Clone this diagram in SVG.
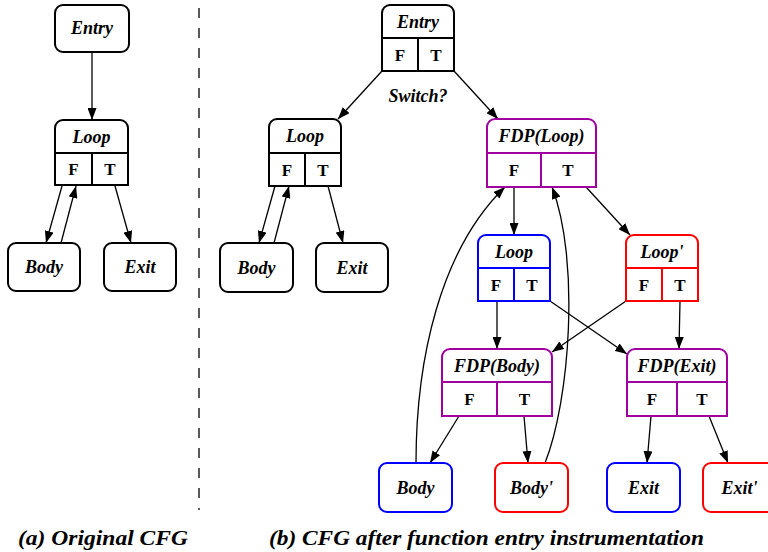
<svg xmlns="http://www.w3.org/2000/svg" width="768" height="552" viewBox="0 0 768 552">
<style>
  .n { fill: #fff; stroke: #000; stroke-width: 2; }
  .blue { stroke: #0000ff; }
  .red { stroke: #ff0000; }
  .pur { stroke: #a000a0; }
  .sep { fill: none; stroke-width: 2; }
  .lbl { font-family: "Liberation Serif", "Times New Roman", serif; font-size: 18px; font-weight: bold; font-style: italic; text-anchor: middle; fill: #000; }
  .ft { font-family: "Liberation Serif", "Times New Roman", serif; font-size: 17px; font-weight: bold; text-anchor: middle; fill: #000; }
  .cap { font-family: "Liberation Serif", "Times New Roman", serif; font-size: 22px; font-weight: bold; font-style: italic; fill: #000; }
  .e { fill: none; stroke: #000; stroke-width: 1.3; marker-end: url(#arr); }
</style>
<defs>
  <marker id="arr" viewBox="0 0 12 9" refX="12" refY="4.5" markerWidth="12" markerHeight="9" markerUnits="userSpaceOnUse" orient="auto">
    <path d="M0,0 L12,4.5 L0,9 Z" fill="#000"/>
  </marker>
</defs>

<!-- divider -->
<line x1="199" y1="8" x2="199" y2="510" stroke="#000" stroke-width="1.3" stroke-dasharray="10,10"/>

<g id="connectors">
  <path class="e" d="M92,52 L92,120"/>
  <path class="e" d="M62,186 L46,243"/>
  <path class="e" d="M61,243 L76,186"/>
  <path class="e" d="M115,186 L131,243"/>

  <path class="e" d="M382,71 L338,119"/>
  <path class="e" d="M454,71 L498,119"/>
  <path class="e" d="M275,186 L259,243"/>
  <path class="e" d="M274,243 L289,186"/>
  <path class="e" d="M328,186 L343,243"/>

  <path class="e" d="M514,187 L514,235"/>
  <path class="e" d="M586,187 L630,235"/>
  <path class="e" d="M416,463 C416,360 440,250 505,187"/>
  <path class="e" d="M545,463 C570,400 580,260 552,187"/>

  <path class="e" d="M497,301 L497,349"/>
  <path class="e" d="M550,301 L627,354"/>
  <path class="e" d="M626,301 L552,352"/>
  <path class="e" d="M680,301 L679,349"/>

  <path class="e" d="M459,416 L430,463"/>
  <path class="e" d="M524,416 L528,463"/>
  <path class="e" d="M651,416 L647,463"/>
  <path class="e" d="M709,416 L728,463"/>
</g>

<!-- (a) original CFG -->
<g id="a_entry">
  <rect class="n" x="55" y="5" width="74" height="47" rx="8"/>
  <text class="lbl" x="92" y="34">Entry</text>
</g>
<g id="a_loop">
  <path class="n" d="M55,185 V128 A8,8 0 0 1 63,120 H120 A8,8 0 0 1 128,128 V185 Z"/>
  <path class="sep" stroke="#000" d="M55,153 H128 M92,153 V185"/>
  <text class="lbl" x="91.5" y="142.5">Loop</text>
  <text class="ft" x="73.5" y="175">F</text>
  <text class="ft" x="110" y="175">T</text>
</g>
<g id="a_body">
  <rect class="n" x="8" y="243" width="72" height="48" rx="8"/>
  <text class="lbl" x="44" y="273">Body</text>
</g>
<g id="a_exit">
  <rect class="n" x="104" y="243" width="72" height="48" rx="8"/>
  <text class="lbl" x="140" y="273">Exit</text>
</g>

<!-- (b) instrumented CFG -->
<g id="b_entry">
  <path class="n" d="M382,71 V13 A8,8 0 0 1 390,5 H446 A8,8 0 0 1 454,13 V71 Z"/>
  <path class="sep" stroke="#000" d="M382,38 H454 M418,38 V71"/>
  <text class="lbl" x="418" y="27.5">Entry</text>
  <text class="ft" x="400" y="60.5">F</text>
  <text class="ft" x="436" y="60.5">T</text>
</g>
<text class="lbl" x="418" y="102">Switch?</text>

<g id="b_loop">
  <path class="n" d="M269,186 V127 A8,8 0 0 1 277,119 H333 A8,8 0 0 1 341,127 V186 Z"/>
  <path class="sep" stroke="#000" d="M269,153 H341 M305,153 V186"/>
  <text class="lbl" x="305" y="142">Loop</text>
  <text class="ft" x="287" y="175.5">F</text>
  <text class="ft" x="323" y="175.5">T</text>
</g>
<g id="b_body">
  <rect class="n" x="220" y="243" width="73" height="49" rx="8"/>
  <text class="lbl" x="256.5" y="273.5">Body</text>
</g>
<g id="b_exit">
  <rect class="n" x="316" y="243" width="72" height="49" rx="8"/>
  <text class="lbl" x="352" y="273.5">Exit</text>
</g>

<g id="fdp_loop">
  <path class="n pur" d="M487,187 V127 A8,8 0 0 1 495,119 H588 A8,8 0 0 1 596,127 V187 Z"/>
  <path class="sep pur" d="M487,153 H596 M541,153 V187"/>
  <text class="lbl" x="541.5" y="142">FDP(Loop)</text>
  <text class="ft" x="514" y="176">F</text>
  <text class="ft" x="568" y="176">T</text>
</g>

<g id="loop_blue">
  <path class="n blue" d="M478,301 V243 A8,8 0 0 1 486,235 H542 A8,8 0 0 1 550,243 V301 Z"/>
  <path class="sep blue" d="M478,268 H550 M514,268 V301"/>
  <text class="lbl" x="514" y="257.5">Loop</text>
  <text class="ft" x="496" y="290.5">F</text>
  <text class="ft" x="532" y="290.5">T</text>
</g>

<g id="loop_red">
  <path class="n red" d="M626,301 V243 A8,8 0 0 1 634,235 H690 A8,8 0 0 1 698,243 V301 Z"/>
  <path class="sep red" d="M626,268 H698 M662,268 V301"/>
  <text class="lbl" x="662" y="257.5">Loop'</text>
  <text class="ft" x="644" y="290.5">F</text>
  <text class="ft" x="680" y="290.5">T</text>
</g>

<g id="fdp_body">
  <path class="n pur" d="M442,416 V357 A8,8 0 0 1 450,349 H544 A8,8 0 0 1 552,357 V416 Z"/>
  <path class="sep pur" d="M442,382 H552 M497,382 V416"/>
  <text class="lbl" x="497" y="371.5">FDP(Body)</text>
  <text class="ft" x="469.5" y="405">F</text>
  <text class="ft" x="524.5" y="405">T</text>
</g>

<g id="fdp_exit">
  <path class="n pur" d="M627,416 V357 A8,8 0 0 1 635,349 H719 A8,8 0 0 1 727,357 V416 Z"/>
  <path class="sep pur" d="M627,382 H727 M677,382 V416"/>
  <text class="lbl" x="677" y="371.5">FDP(Exit)</text>
  <text class="ft" x="652" y="405">F</text>
  <text class="ft" x="702" y="405">T</text>
</g>

<g id="body_blue">
  <rect class="n blue" x="379" y="463" width="73" height="49" rx="8"/>
  <text class="lbl" x="415.5" y="493.5">Body</text>
</g>
<g id="body_red">
  <rect class="n red" x="495" y="463" width="73" height="49" rx="8"/>
  <text class="lbl" x="531.5" y="493.5">Body'</text>
</g>
<g id="exit_blue">
  <rect class="n blue" x="607" y="463" width="73" height="49" rx="8"/>
  <text class="lbl" x="643.5" y="493.5">Exit</text>
</g>
<g id="exit_red">
  <rect class="n red" x="703" y="463" width="73" height="49" rx="8"/>
  <text class="lbl" x="739.5" y="493.5">Exit'</text>
</g>

<text class="cap" x="18" y="545" textLength="170" lengthAdjust="spacingAndGlyphs">(a) Original CFG</text>
<text class="cap" x="269" y="545" textLength="435" lengthAdjust="spacingAndGlyphs">(b) CFG after function entry instrumentation</text>
</svg>
